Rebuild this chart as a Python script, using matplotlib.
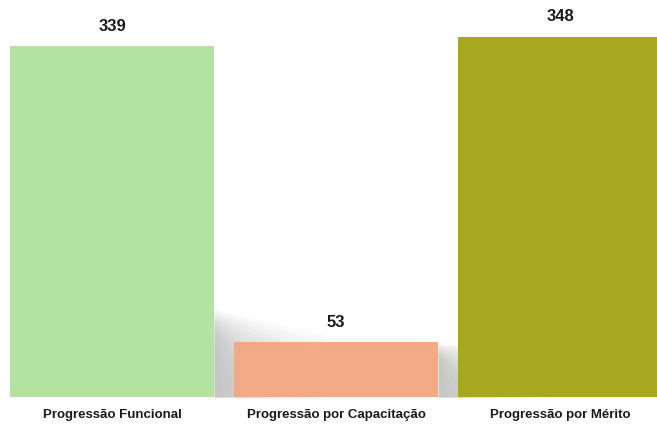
import matplotlib
matplotlib.use("Agg")
import matplotlib.pyplot as plt
import numpy as np
from matplotlib import font_manager

categories = ["Progressão Funcional", "Progressão por Capacitação", "Progressão por Mérito"]
values = [339, 53, 348]
colors = ["#B4E3A1", "#F2A986", "#A8A820"]

fams = [f.name for f in font_manager.fontManager.ttflist]
fam = "Liberation Sans Narrow" if "Liberation Sans Narrow" in fams else "Liberation Sans"

fig = plt.figure(figsize=(6.57, 4.26), dpi=100)
ax = fig.add_axes([0, 29/426, 1, 397/426])
x = np.arange(len(categories))
w = 0.911

# soft cast shadows
for i, v in enumerate(values):
    h = min(v, 85)
    for k in range(14):
        frac = k / 14
        ax.fill_between([x[i] + w/2, x[i] + w/2 + 0.5 * (1 - frac)],
                        0, [h * (1 - frac * 0.25), h * 0.7 * (1 - frac)],
                        color="#7a7a7a", alpha=0.035, lw=0, zorder=1)

bars = ax.bar(x, values, width=w, color=colors, zorder=2)
for i, v in enumerate(values):
    ax.text(x[i], v + 12, str(v), ha="center", va="bottom", fontsize=12,
            fontweight="bold", family=fam, color="#1a1a1a")

ax.set_xlim(-0.5, 2.433)
ax.set_ylim(0, 383.6)
ax.axis("off")
for i, c in enumerate(categories):
    fig.text(112/657 + i*224/657, 1 - 415/426, c, ha="center", va="center",
             fontsize=9.5, fontweight="bold", family=fam, color="#1a1a1a")

fig.savefig("out.png", dpi=100)
